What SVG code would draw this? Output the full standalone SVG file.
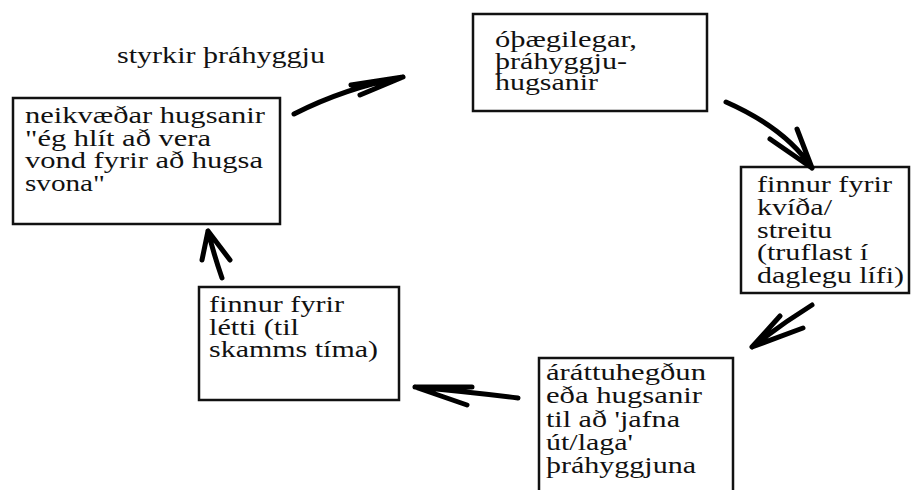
<svg xmlns="http://www.w3.org/2000/svg" width="911" height="490" viewBox="0 0 911 490">
<style>
.box{fill:#fff;stroke:#111;stroke-width:2.5}
.c{fill:none;stroke:#000;stroke-width:5;stroke-linecap:round;stroke-linejoin:round}
</style>
<rect width="911" height="490" fill="#fff"/>
<g id="label-styrkir" font-family="Times New Roman, Liberation Serif, DejaVu Serif, serif" font-size="23" fill="#111">
<text x="117" y="63" textLength="208" lengthAdjust="spacingAndGlyphs">styrkir þráhyggju</text>
</g>
<g id="node-neikvaedar" font-family="Times New Roman, Liberation Serif, DejaVu Serif, serif" font-size="23" fill="#111">
<rect class="box" x="13" y="98" width="267" height="126"/>
<text x="25" y="123" textLength="240" lengthAdjust="spacingAndGlyphs">neikvæðar hugsanir</text>
<text x="25" y="145.5" textLength="186" lengthAdjust="spacingAndGlyphs">"ég hlít að vera</text>
<text x="25" y="168" textLength="238" lengthAdjust="spacingAndGlyphs">vond fyrir að hugsa</text>
<text x="25" y="190.5" textLength="80" lengthAdjust="spacingAndGlyphs">svona"</text>
</g>
<g id="node-othaegilegar" font-family="Times New Roman, Liberation Serif, DejaVu Serif, serif" font-size="23" fill="#111">
<rect class="box" x="473" y="14" width="234" height="97"/>
<text x="495" y="47" textLength="142" lengthAdjust="spacingAndGlyphs">óþægilegar,</text>
<text x="495" y="68.5" textLength="132" lengthAdjust="spacingAndGlyphs">þráhyggju-</text>
<text x="495" y="90" textLength="103" lengthAdjust="spacingAndGlyphs">hugsanir</text>
</g>
<g id="node-kvida" font-family="Times New Roman, Liberation Serif, DejaVu Serif, serif" font-size="23" fill="#111">
<rect class="box" x="741" y="167" width="168" height="126"/>
<text x="757" y="192" textLength="135" lengthAdjust="spacingAndGlyphs">finnur fyrir</text>
<text x="757" y="214.8" textLength="75" lengthAdjust="spacingAndGlyphs">kvíða/</text>
<text x="757" y="237.6" textLength="75" lengthAdjust="spacingAndGlyphs">streitu</text>
<text x="757" y="260.4" textLength="111" lengthAdjust="spacingAndGlyphs">(truflast í</text>
<text x="757" y="283.2" textLength="147" lengthAdjust="spacingAndGlyphs">daglegu lífi)</text>
</g>
<g id="node-arattu" font-family="Times New Roman, Liberation Serif, DejaVu Serif, serif" font-size="23" fill="#111">
<rect class="box" x="539" y="358" width="194" height="150"/>
<text x="546" y="380" textLength="160" lengthAdjust="spacingAndGlyphs">áráttuhegðun</text>
<text x="546" y="403.3" textLength="156" lengthAdjust="spacingAndGlyphs">eða hugsanir</text>
<text x="546" y="426.6" textLength="134" lengthAdjust="spacingAndGlyphs">til að 'jafna</text>
<text x="546" y="449.9" textLength="87" lengthAdjust="spacingAndGlyphs">út/laga'</text>
<text x="546" y="473.2" textLength="150" lengthAdjust="spacingAndGlyphs">þráhyggjuna</text>
</g>
<g id="node-letti" font-family="Times New Roman, Liberation Serif, DejaVu Serif, serif" font-size="23" fill="#111">
<rect class="box" x="199" y="287" width="200" height="113"/>
<text x="209" y="312" textLength="135" lengthAdjust="spacingAndGlyphs">finnur fyrir</text>
<text x="209" y="334.5" textLength="90" lengthAdjust="spacingAndGlyphs">létti (til</text>
<text x="209" y="357" textLength="169" lengthAdjust="spacingAndGlyphs">skamms tíma)</text>
</g>
<g id="connectors">
<path class="c" d="M294,114 Q345,88 403,77 M403,77 L351,85 M403,77 L360,95"/>
<path class="c" d="M726,102 Q785,128 812,168 M812,168 L770,139 M812,168 L797,129"/>
<path class="c" d="M812,305 Q780,325 752,347 M752,347 L780,316 M752,347 L803,328"/>
<path class="c" d="M518,398 Q470,392 415,387 M415,387 L472,387 M415,387 L467,405"/>
<path class="c" d="M222,278 Q214,255 208,231 M208,231 L202,260 M208,231 L230,260"/>
</g>
</svg>
